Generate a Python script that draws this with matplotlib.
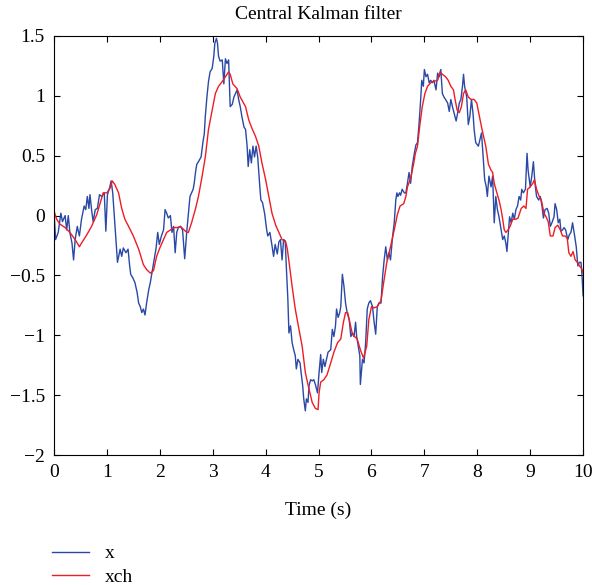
import matplotlib
matplotlib.use("Agg")
import matplotlib.pyplot as plt

plt.rcParams['font.family'] = ['Liberation Serif', 'DejaVu Serif']
plt.rcParams['font.size'] = 14

t_x = [0.00, 0.03, 0.08, 0.13, 0.16, 0.21, 0.24, 0.27, 0.30, 0.34, 0.37, 0.40, 0.44, 0.48,
       0.52, 0.57, 0.60, 0.63, 0.66, 0.68, 0.71, 0.74, 0.78, 0.82, 0.86, 0.90, 0.95, 0.98,
       1.01, 1.05, 1.08, 1.11, 1.14, 1.17, 1.20, 1.25, 1.28, 1.31, 1.36, 1.40, 1.43, 1.45,
       1.49, 1.53, 1.57, 1.60, 1.63, 1.66, 1.69, 1.72, 1.75, 1.79, 1.82, 1.85, 1.89, 1.93,
       1.96, 1.99, 2.03, 2.07, 2.10, 2.13, 2.16, 2.20, 2.23, 2.26, 2.29, 2.32, 2.35, 2.39,
       2.43, 2.47, 2.51, 2.54, 2.57, 2.60, 2.63, 2.65, 2.68, 2.70, 2.73, 2.78, 2.82, 2.84,
       2.86, 2.89, 2.92, 2.95, 2.99, 3.02, 3.04, 3.07, 3.09, 3.11, 3.14, 3.18, 3.21, 3.24,
       3.27, 3.30, 3.33, 3.37, 3.40, 3.43, 3.46, 3.49, 3.52, 3.55, 3.59, 3.62, 3.65, 3.67,
       3.70, 3.73, 3.76, 3.79, 3.82, 3.85, 3.89, 3.91, 3.94, 3.98, 4.02, 4.04, 4.08, 4.12,
       4.15, 4.18, 4.22, 4.25, 4.28, 4.31, 4.34, 4.37, 4.39, 4.42, 4.44, 4.47, 4.50, 4.53,
       4.56, 4.58, 4.61, 4.65, 4.67, 4.70, 4.72, 4.75, 4.77, 4.80, 4.82, 4.85, 4.88, 4.91,
       4.94, 4.98, 5.01, 5.04, 5.06, 5.09, 5.12, 5.15, 5.18, 5.23, 5.26, 5.29, 5.32, 5.34,
       5.37, 5.40, 5.42, 5.45, 5.48, 5.51, 5.54, 5.58, 5.61, 5.64, 5.67, 5.70, 5.72, 5.75,
       5.78, 5.79, 5.83, 5.86, 5.89, 5.92, 5.95, 5.98, 6.02, 6.05, 6.08, 6.11, 6.14, 6.18,
       6.21, 6.24, 6.27, 6.30, 6.33, 6.36, 6.40, 6.43, 6.46, 6.48, 6.50, 6.53, 6.55, 6.58,
       6.62, 6.65, 6.68, 6.71, 6.74, 6.77, 6.81, 6.84, 6.87, 6.90, 6.93, 6.95, 6.98, 7.00,
       7.03, 7.06, 7.09, 7.12, 7.15, 7.18, 7.22, 7.25, 7.28, 7.31, 7.34, 7.37, 7.40, 7.44,
       7.47, 7.50, 7.53, 7.56, 7.60, 7.63, 7.66, 7.69, 7.72, 7.74, 7.76, 7.80, 7.83, 7.86,
       7.89, 7.92, 7.94, 7.97, 8.02, 8.08, 8.11, 8.14, 8.17, 8.19, 8.22, 8.26, 8.29, 8.32,
       8.35, 8.38, 8.41, 8.45, 8.48, 8.51, 8.54, 8.56, 8.59, 8.61, 8.64, 8.67, 8.70, 8.73,
       8.76, 8.79, 8.82, 8.84, 8.87, 8.91, 8.94, 8.96, 9.00, 9.03, 9.06, 9.09, 9.12, 9.16,
       9.19, 9.22, 9.25, 9.28, 9.32, 9.35, 9.38, 9.41, 9.45, 9.47, 9.50, 9.53, 9.56, 9.58,
       9.61, 9.64, 9.67, 9.71, 9.74, 9.77, 9.80, 9.84, 9.87, 9.90, 9.93, 9.96, 9.98, 10.00]
v_x = [0.04, -0.20, -0.14, 0.02, -0.05, 0.00, -0.12, 0.00, -0.14, -0.23, -0.37, -0.20, -0.09, -0.17,
       -0.03, 0.08, 0.05, 0.16, 0.06, 0.175, 0.05, -0.05, 0.05, 0.06, 0.175, 0.16, 0.19, -0.13,
       0.175, 0.23, 0.29, 0.19, 0.00, -0.20, -0.39, -0.28, -0.34, -0.27, -0.31, -0.28, -0.42, -0.49,
       -0.52, -0.56, -0.64, -0.73, -0.76, -0.81, -0.78, -0.83, -0.73, -0.62, -0.56, -0.48, -0.37, -0.27,
       -0.14, -0.24, -0.17, -0.12, 0.05, 0.02, -0.02, 0.00, -0.14, -0.09, -0.31, -0.14, -0.10, -0.09,
       -0.12, -0.36, -0.13, 0.02, 0.16, 0.19, 0.22, 0.27, 0.38, 0.43, 0.45, 0.49, 0.63, 0.68,
       0.83, 0.99, 1.12, 1.20, 1.23, 1.33, 1.44, 1.48, 1.44, 1.33, 1.29, 1.30, 1.10, 1.31,
       1.27, 1.30, 0.91, 0.93, 0.99, 1.02, 1.05, 0.97, 0.91, 0.83, 0.74, 0.72, 0.58, 0.41,
       0.55, 0.44, 0.58, 0.49, 0.58, 0.49, 0.24, 0.13, 0.11, 0.02, -0.12, -0.17, -0.14, -0.25,
       -0.34, -0.24, -0.32, -0.22, -0.20, -0.37, -0.20, -0.21, -0.42, -0.70, -0.98, -0.92, -1.06, -1.12,
       -1.17, -1.28, -1.20, -1.23, -1.31, -1.42, -1.53, -1.63, -1.53, -1.56, -1.42, -1.37, -1.38, -1.37,
       -1.41, -1.48, -1.31, -1.16, -1.31, -1.20, -1.26, -1.20, -1.14, -1.12, -0.95, -1.01, -0.92, -0.78,
       -0.85, -0.81, -0.76, -0.49, -0.59, -0.73, -0.81, -0.87, -1.01, -0.98, -1.01, -0.89, -1.01, -1.09,
       -1.17, -1.41, -1.20, -1.23, -1.06, -0.78, -0.73, -0.71, -0.76, -0.89, -0.99, -0.76, -0.73, -0.73,
       -0.51, -0.37, -0.26, -0.37, -0.31, -0.37, -0.17, -0.06, 0.13, 0.19, 0.16, 0.19, 0.17, 0.22,
       0.19, 0.19, 0.27, 0.36, 0.27, 0.41, 0.52, 0.59, 0.61, 0.77, 0.97, 1.13, 1.08, 1.22,
       1.16, 1.18, 1.11, 1.13, 1.11, 1.13, 1.05, 1.19, 1.16, 1.22, 1.02, 0.99, 0.97, 0.94,
       0.87, 0.97, 0.91, 0.86, 0.79, 0.86, 0.94, 0.97, 1.08, 1.18, 1.08, 0.99, 0.76, 0.83,
       0.97, 0.85, 0.72, 0.61, 0.58, 0.69, 0.49, 0.30, 0.24, 0.16, 0.33, 0.24, 0.33, -0.06,
       0.16, 0.05, -0.01, -0.12, -0.20, -0.17, -0.23, -0.30, -0.12, -0.01, -0.06, 0.02, -0.03, 0.05,
       0.08, 0.16, 0.13, 0.22, 0.19, 0.22, 0.52, 0.38, 0.24, 0.33, 0.45, 0.27, 0.16, 0.13,
       0.16, 0.09, -0.02, 0.05, 0.06, 0.02, -0.09, -0.06, -0.01, 0.10, 0.05, -0.06, -0.03, -0.13,
       -0.12, -0.10, -0.12, -0.20, -0.16, -0.14, -0.06, -0.17, -0.26, -0.42, -0.39, -0.39, -0.51, -0.67]

# central Kalman filter estimate xch
t_xch = [0.00, 0.05, 0.11, 0.21, 0.30, 0.40, 0.48, 0.52, 0.62, 0.71, 0.81, 0.87, 0.93, 1.00,
         1.06, 1.10, 1.15, 1.22, 1.28, 1.34, 1.41, 1.50, 1.60, 1.69, 1.75, 1.82, 1.88, 1.94,
         2.00, 2.07, 2.13, 2.20, 2.26, 2.33, 2.39, 2.46, 2.51, 2.54, 2.60, 2.67, 2.73, 2.80,
         2.86, 2.92, 2.99, 3.05, 3.11, 3.18, 3.24, 3.30, 3.33, 3.38, 3.46, 3.52, 3.62, 3.68,
         3.74, 3.81, 3.87, 3.93, 4.00, 4.06, 4.12, 4.19, 4.25, 4.31, 4.38, 4.41, 4.44, 4.50,
         4.56, 4.63, 4.69, 4.75, 4.82, 4.88, 4.94, 4.99, 5.01, 5.04, 5.10, 5.16, 5.23, 5.29,
         5.36, 5.42, 5.47, 5.51, 5.55, 5.59, 5.64, 5.68, 5.73, 5.79, 5.85, 5.91, 5.95, 6.00,
         6.05, 6.11, 6.18, 6.23, 6.29, 6.36, 6.43, 6.49, 6.54, 6.61, 6.65, 6.68, 6.74, 6.80,
         6.83, 6.87, 6.91, 6.96, 7.01, 7.06, 7.12, 7.18, 7.25, 7.30, 7.34, 7.40, 7.45, 7.50,
         7.55, 7.58, 7.62, 7.66, 7.70, 7.74, 7.78, 7.83, 7.88, 7.94, 7.99, 8.04, 8.08, 8.13,
         8.16, 8.21, 8.26, 8.29, 8.32, 8.37, 8.41, 8.45, 8.48, 8.51, 8.54, 8.58, 8.62, 8.67,
         8.73, 8.77, 8.83, 8.88, 8.92, 8.95, 9.00, 9.05, 9.08, 9.12, 9.17, 9.21, 9.26, 9.30,
         9.34, 9.38, 9.43, 9.47, 9.52, 9.57, 9.61, 9.66, 9.70, 9.73, 9.77, 9.81, 9.85, 9.89,
         9.93, 9.97, 10.00]
v_xch = [0.04, -0.03, -0.07, -0.10, -0.14, -0.20, -0.26, -0.23, -0.16, -0.09, 0.01, 0.10, 0.19, 0.19,
         0.23, 0.29, 0.26, 0.19, 0.06, -0.03, -0.09, -0.17, -0.28, -0.41, -0.45, -0.48, -0.46, -0.34,
         -0.27, -0.20, -0.14, -0.12, -0.10, -0.10, -0.09, -0.12, -0.14, -0.14, -0.06, 0.05, 0.16, 0.33,
         0.49, 0.72, 0.88, 1.02, 1.08, 1.12, 1.16, 1.20, 1.18, 1.10, 1.06, 0.99, 0.91, 0.80,
         0.73, 0.66, 0.58, 0.44, 0.30, 0.16, 0.02, -0.08, -0.14, -0.20, -0.22, -0.28, -0.38, -0.59,
         -0.78, -0.95, -1.09, -1.31, -1.45, -1.56, -1.61, -1.62, -1.48, -1.39, -1.37, -1.33, -1.23, -1.14,
         -1.06, -1.03, -0.89, -0.81, -0.81, -0.89, -0.99, -1.01, -1.03, -1.12, -1.19, -1.09, -0.87, -0.76,
         -0.77, -0.76, -0.71, -0.56, -0.39, -0.26, -0.12, 0.01, 0.08, 0.10, 0.16, 0.24, 0.31, 0.44,
         0.52, 0.58, 0.74, 0.91, 1.02, 1.08, 1.11, 1.12, 1.13, 1.20, 1.18, 1.16, 1.13, 1.08,
         1.05, 0.97, 0.88, 0.86, 0.91, 1.02, 1.05, 0.99, 0.97, 0.97, 0.94, 0.83, 0.74, 0.64,
         0.58, 0.43, 0.38, 0.36, 0.27, 0.19, 0.13, 0.05, -0.03, -0.12, -0.14, -0.12, -0.09, -0.03,
         -0.03, -0.02, 0.06, 0.08, 0.06, 0.22, 0.24, 0.27, 0.30, 0.22, 0.16, 0.13, 0.02, -0.01,
         -0.05, -0.17, -0.17, -0.10, -0.08, -0.12, -0.17, -0.17, -0.19, -0.31, -0.34, -0.30, -0.37, -0.39,
         -0.42, -0.44, -0.48]

fig = plt.figure(figsize=(5.92, 5.85), dpi=100)
ax = fig.add_axes([0.0912, 0.222, 0.8938, 0.7165])

ax.plot(t_x, v_x, color='#2a48a6', lw=1.0, label='x')
ax.plot(t_xch, v_xch, color='#ee1c25', lw=1.0, label='xch')

ax.set_xlim(0, 10)
ax.set_ylim(-2, 1.5)
ax.set_xticks(range(0, 11))
ax.set_yticks([-2, -1.5, -1, -0.5, 0, 0.5, 1, 1.5])
ax.set_yticklabels(['\u22122', '\u22121.5', '\u22121', '\u22120.5', '0', '0.5', '1', '1.5'])
ax.tick_params(direction='in', top=True, right=True, length=4, width=0.8,
               labelsize=14, pad=6.5)
for s in ax.spines.values():
    s.set_linewidth(0.8)

ax.set_title('Central Kalman filter', fontsize=14, pad=12)
ax.set_xlabel('Time (s)', fontsize=14, labelpad=15)

fig.legend(loc='upper left', bbox_to_anchor=(0.075, 0.082), frameon=False,
           fontsize=14, handlelength=1.9, handletextpad=0.8, labelspacing=0.3,
           borderaxespad=0)

fig.savefig('out.png', dpi=100)
